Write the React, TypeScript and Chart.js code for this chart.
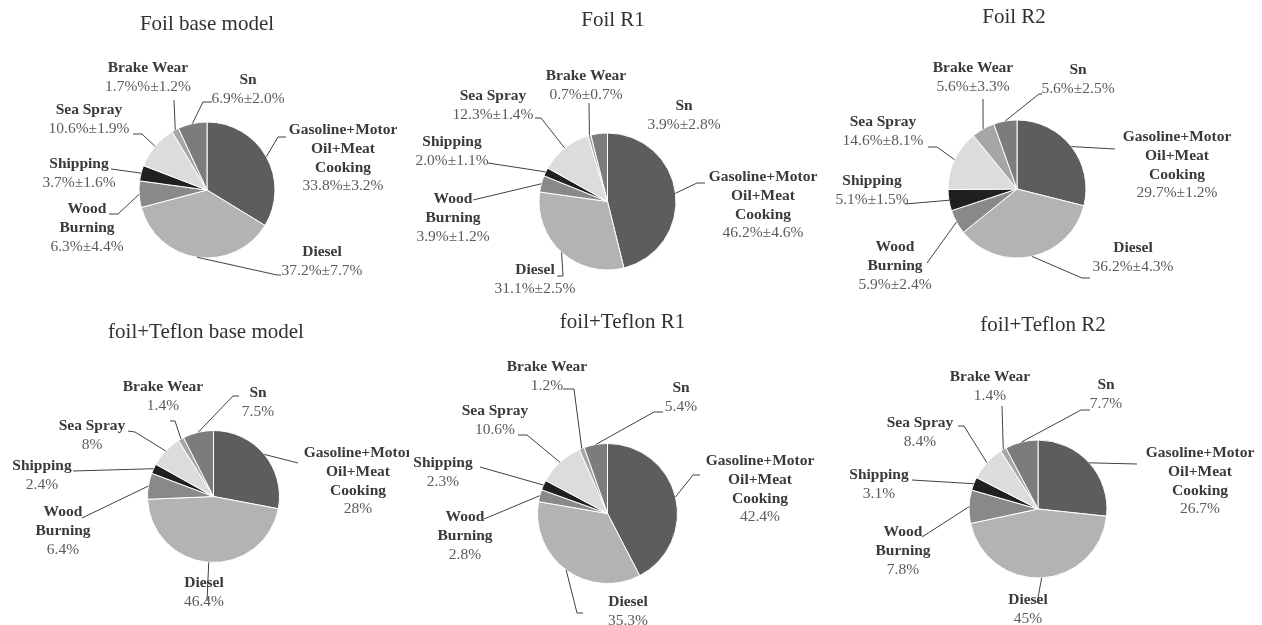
import React, { useEffect, useRef } from 'react';
import { Chart, registerables } from 'chart.js';

Chart.register(...registerables);

const W = 1262;
const H = 625;

// ---------- data ----------
const categories = [
  'Gasoline+Motor Oil+Meat Cooking',
  'Diesel',
  'Wood Burning',
  'Shipping',
  'Sea Spray',
  'Brake Wear',
  'Sn',
];
const categoryLines = [
  ['Gasoline+Motor', 'Oil+Meat', 'Cooking'],
  ['Diesel'],
  ['Wood', 'Burning'],
  ['Shipping'],
  ['Sea Spray'],
  ['Brake Wear'],
  ['Sn'],
];
const titles = [
  'Foil base model',
  'Foil R1',
  'Foil R2',
  'foil+Teflon base model',
  'foil+Teflon R1',
  'foil+Teflon R2',
];

const foilBase = [33.8, 37.2, 6.3, 3.7, 10.6, 1.7, 6.9];
const foilBaseErr = [3.2, 7.7, 4.4, 1.6, 1.9, 1.2, 2.0];
const foilR1 = [46.2, 31.1, 3.9, 2.0, 12.3, 0.7, 3.9];
const foilR1Err = [4.6, 2.5, 1.2, 1.1, 1.4, 0.7, 2.8];
const foilR2 = [29.7, 36.2, 5.9, 5.1, 14.6, 5.6, 5.6];
const foilR2Err = [1.2, 4.3, 2.4, 1.5, 8.1, 3.3, 2.5];
const teflonBase = [28, 46.4, 6.4, 2.4, 8, 1.4, 7.5];
const teflonR1 = [42.4, 35.3, 2.8, 2.3, 10.6, 1.2, 5.4];
const teflonR2 = [26.7, 45, 7.8, 3.1, 8.4, 1.4, 7.7];

// label as printed in the source (typo kept)
const foilBaseBrakeText = '1.7%%±1.2%';

const withErr = (v: number[], e: number[]) =>
  v.map((x, i) => `${x.toFixed(1)}%±${e[i].toFixed(1)}%`);
const plain = (v: number[]) => v.map((x) => `${x}%`);

const foilBaseText = withErr(foilBase, foilBaseErr);
foilBaseText[5] = foilBaseBrakeText;

const seriesValues = [foilBase, foilR1, foilR2, teflonBase, teflonR1, teflonR2];
const seriesText = [
  foilBaseText,
  withErr(foilR1, foilR1Err),
  withErr(foilR2, foilR2Err),
  plain(teflonBase),
  plain(teflonR1),
  plain(teflonR2),
];

// ---------- styles ----------
const sliceColors = ['#5d5d5d', '#b3b3b3', '#898989', '#202020', '#dcdcdc', '#a6a6a6', '#7c7c7c'];
const FONT = '"Liberation Serif", "Times New Roman", serif';
const LH = 18.8;

// ---------- layout (page pixel positions) ----------
type Lbl = { x: number; y: number; lead: number[][] | null };
type PieLayout = { cx: number; cy: number; r: number; tx: number; ty: number; clipRight?: number; labels: Lbl[] };

const layouts: PieLayout[] = [
  {
    cx: 207, cy: 190, r: 68, tx: 207, ty: 24,
    labels: [
      { x: 343, y: 130, lead: [[278, 137], [286, 137]] },
      { x: 322, y: 252, lead: [[277, 275], [281, 275]] },
      { x: 87, y: 209, lead: [[118, 214], [109, 214]] },
      { x: 79, y: 164, lead: [[111, 169]] },
      { x: 89, y: 110, lead: [[142, 134], [133, 134]] },
      { x: 148, y: 68, lead: [[174, 100]] },
      { x: 248, y: 80, lead: [[203, 102], [212, 102]] },
    ],
  },
  {
    cx: 607.5, cy: 201.5, r: 68.5, tx: 613, ty: 20,
    labels: [
      { x: 763, y: 177, lead: [[697, 183], [705, 183]] },
      { x: 535, y: 270, lead: [[563, 276], [557, 276]] },
      { x: 453, y: 199, lead: [[473, 200]] },
      { x: 452, y: 142, lead: [[488, 163]] },
      { x: 493, y: 96, lead: [[541, 118], [535, 118]] },
      { x: 586, y: 76, lead: [[589, 103]] },
      { x: 684, y: 106, lead: null },
    ],
  },
  {
    cx: 1017, cy: 189, r: 69, tx: 1014, ty: 17,
    labels: [
      { x: 1177, y: 137, lead: [[1115, 149]] },
      { x: 1133, y: 248, lead: [[1082, 278], [1090, 278]] },
      { x: 895, y: 247, lead: [[927, 263]] },
      { x: 872, y: 181, lead: [[905, 204]] },
      { x: 883, y: 122, lead: [[937, 147], [928, 147]] },
      { x: 973, y: 68, lead: [[983, 99]] },
      { x: 1078, y: 70, lead: [[1039, 94], [1042, 94]] },
    ],
  },
  {
    cx: 213.5, cy: 496.5, r: 66, tx: 206, ty: 332, clipRight: 409,
    labels: [
      { x: 358, y: 453, lead: [[298, 463]] },
      { x: 204, y: 583, lead: [[207, 601]] },
      { x: 63, y: 512, lead: [[82, 518]] },
      { x: 42, y: 466, lead: [[73, 471]] },
      { x: 92, y: 426, lead: [[135, 432], [128, 431]] },
      { x: 163, y: 387, lead: [[175, 421], [170, 421]] },
      { x: 258, y: 393, lead: [[233, 396], [239, 396]] },
    ],
  },
  {
    cx: 607.5, cy: 513.5, r: 70, tx: 622.5, ty: 322,
    labels: [
      { x: 760, y: 461, lead: [[693, 475], [700, 475]] },
      { x: 628, y: 602, lead: [[577, 613], [583, 613]] },
      { x: 465, y: 517, lead: [[484, 519]] },
      { x: 443, y: 463, lead: [[480, 467]] },
      { x: 495, y: 411, lead: [[527, 435], [518, 435]] },
      { x: 547, y: 367, lead: [[574, 389], [563, 389]] },
      { x: 681, y: 388, lead: [[654, 412], [663, 412]] },
    ],
  },
  {
    cx: 1038, cy: 509, r: 69, tx: 1043, ty: 325,
    labels: [
      { x: 1200, y: 453, lead: [[1137, 464]] },
      { x: 1028, y: 600, lead: [[1037, 603]] },
      { x: 903, y: 532, lead: [[922, 537]] },
      { x: 879, y: 475, lead: [[912, 480]] },
      { x: 920, y: 423, lead: [[964, 426], [958, 426]] },
      { x: 990, y: 377, lead: [[1002, 406]] },
      { x: 1106, y: 385, lead: [[1081, 410], [1090, 410]] },
    ],
  },
];

function makeLabelPlugin(idx: number) {
  const L = layouts[idx];
  const texts = seriesText[idx];
  return {
    id: 'pieLabels' + idx,
    afterDraw(chart: any) {
      const ctx = chart.ctx as CanvasRenderingContext2D;
      const meta = chart.getDatasetMeta(0);
      ctx.save();
      if (L.clipRight) {
        ctx.beginPath();
        ctx.rect(0, 0, L.clipRight, H);
        ctx.clip();
      }
      ctx.textAlign = 'center';
      ctx.textBaseline = 'middle';
      ctx.fillStyle = '#303030';
      ctx.font = `21px ${FONT}`;
      ctx.fillText(titles[idx], L.tx, L.ty);

      meta.data.forEach((arc: any, i: number) => {
        const lb = L.labels[i];
        const names = categoryLines[i];
        ctx.font = `bold 15.5px ${FONT}`;
        ctx.fillStyle = '#3a3a3a';
        names.forEach((t, k) => ctx.fillText(t, lb.x, lb.y + k * LH));
        ctx.font = `15.5px ${FONT}`;
        ctx.fillStyle = '#5a5a5a';
        ctx.fillText(texts[i], lb.x, lb.y + names.length * LH);
      });

      meta.data.forEach((arc: any, i: number) => {
        const lb = L.labels[i];
        if (!lb.lead) return;
        const p = arc.getProps(['x', 'y', 'startAngle', 'endAngle', 'outerRadius'], true);
        const mid = (p.startAngle + p.endAngle) / 2;
        ctx.beginPath();
        ctx.moveTo(p.x + Math.cos(mid) * p.outerRadius, p.y + Math.sin(mid) * p.outerRadius);
        lb.lead.forEach(([px, py]) => ctx.lineTo(px, py));
        ctx.strokeStyle = '#404040';
        ctx.lineWidth = 1;
        ctx.stroke();
      });
      ctx.restore();
    },
  };
}

function PieCanvas({ idx }: { idx: number }) {
  const ref = useRef<HTMLCanvasElement>(null);
  useEffect(() => {
    const L = layouts[idx];
    const m = 6;
    const chart = new Chart(ref.current as HTMLCanvasElement, {
      type: 'pie',
      data: {
        labels: categories,
        datasets: [
          {
            data: seriesValues[idx],
            backgroundColor: sliceColors,
            borderColor: '#ffffff',
            borderWidth: 1,
            radius: L.r,
          } as any,
        ],
      },
      options: {
        responsive: false,
        animation: false,
        devicePixelRatio: 1,
        events: [],
        layout: {
          padding: {
            left: L.cx - L.r - m,
            right: W - (L.cx + L.r + m),
            top: L.cy - L.r - m,
            bottom: H - (L.cy + L.r + m),
          },
        },
        plugins: {
          legend: { display: false },
          tooltip: { enabled: false },
          title: { display: false },
        },
      } as any,
      plugins: [makeLabelPlugin(idx)],
    });
    return () => chart.destroy();
  }, [idx]);
  return (
    <canvas
      ref={ref}
      width={W}
      height={H}
      style={{ position: 'absolute', left: 0, top: 0, width: W, height: H }}
    />
  );
}

export default function App() {
  useEffect(() => {
    document.body.style.margin = '0';
    document.body.style.overflow = 'hidden';
    document.body.style.background = '#ffffff';
  }, []);
  return (
    <div style={{ position: 'absolute', left: 0, top: 0, width: W, height: H, background: '#ffffff' }}>
      {titles.map((_, i) => (
        <PieCanvas key={i} idx={i} />
      ))}
    </div>
  );
}
